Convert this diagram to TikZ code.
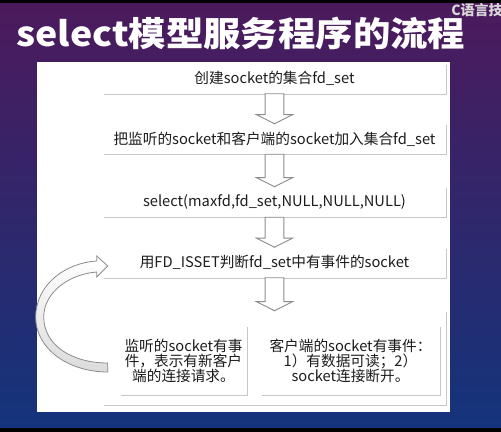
\documentclass[tikz,border=0pt]{standalone}
\usepackage{fontspec}
\setmainfont{Noto Sans CJK SC}
\usetikzlibrary{calc,shadows}

\definecolor{bgtop}{RGB}{76,26,92}
\definecolor{bgmid}{RGB}{48,36,122}
\definecolor{bgbot}{RGB}{20,52,124}
\definecolor{arrowgray}{RGB}{140,140,140}
\definecolor{textgray}{RGB}{28,28,28}

\newcommand{\blkarrow}[2]{%
	\draw[hollow] let \p1=(#1.south), \p2=(#2.north) in
		(\x1-7pt,\y1) -- (\x1+7pt,\y1) -- (\x1+7pt,\y2+6.8pt) -- (\x1+13.5pt,\y2+6.8pt)
		-- (\x1,\y2) -- (\x1-13.5pt,\y2+6.8pt) -- (\x1-7pt,\y2+6.8pt) -- cycle;}

\begin{document}
\begin{tikzpicture}[x=0.75pt,y=-0.75pt,
	stepbox/.style={fill=white, minimum width=257.25pt, minimum height=22.5pt, inner sep=0pt, text=textgray, font=\fontsize{11pt}{11.25pt}\selectfont, drop shadow={shadow xshift=0.5pt, shadow yshift=-1pt, fill=black, opacity=0.22}},
	hollow/.style={draw=arrowgray, fill=white, line width=0.7pt, line join=miter},
	looparrow/.style={draw=arrowgray, line width=0.6pt, top color=white, bottom color=gray!28}]

	\useasboundingbox (0,0) rectangle (501,432);
	\fill[black] (0,0) rectangle (501,432);
	\shade[top color=bgtop, middle color=bgmid, bottom color=bgbot] (0,3) rectangle (501,427);
	\fill[white] (37,62) rectangle (450,412);

	\node[anchor=base west, inner sep=0pt, text=white, font=\bfseries\fontsize{25.5pt}{26pt}\selectfont, xscale=1.1] (title) at (16,46) {select模型服务程序的流程};
	\node[anchor=base west, inner sep=0pt, text=gray!30!white, font=\bfseries\fontsize{10.5pt}{12pt}\selectfont] (mark) at (451,16) {C语言技};

	\node[stepbox] (b1) at (274.5,78.5) {创建socket的集合fd\_set};
	\node[stepbox] (b2) at (274.5,139) {把监听的socket和客户端的socket加入集合fd\_set};
	\node[stepbox] (b3) at (274.5,202) {select(maxfd,fd\_set,NULL,NULL,NULL)};
	\node[stepbox] (b4) at (274.5,262.5) {用FD\_ISSET判断fd\_set中有事件的socket};
	\node[stepbox, minimum height=70.5pt] (bb) at (274.5,358) {};

	\blkarrow{b1}{b2}
	\blkarrow{b2}{b3}
	\blkarrow{b3}{b4}
	\blkarrow{b4}{bb}

	\begin{scope}[shift={(b4.west)}]
		\draw[looparrow] (5,109.5) .. controls (-33,109.5) and (-67,87.5) .. (-67,54.5)
			.. controls (-67,22.5) and (-38,0.5) .. (-6,-1.5) -- (-6,-6.5) -- (5,3.5) -- (-6,14.5) -- (-6,9.5)
			.. controls (-33,11.5) and (-59,29.5) .. (-59,54.5)
			.. controls (-59,82.5) and (-31,100.5) .. (5,100.5) -- cycle;
	\end{scope}

	\node[stepbox, minimum width=95.25pt, minimum height=51.75pt, align=center] (bl) at (183.5,360.5) {监听的socket有事\\件，表示有新客户\\端的连接请求。};
	\node[stepbox, minimum width=134.25pt, minimum height=51.75pt, align=center] (br) at (350.5,360.5) {客户端的socket有事件：\\1）有数据可读；2）\\socket连接断开。};

\end{tikzpicture}
\end{document}
